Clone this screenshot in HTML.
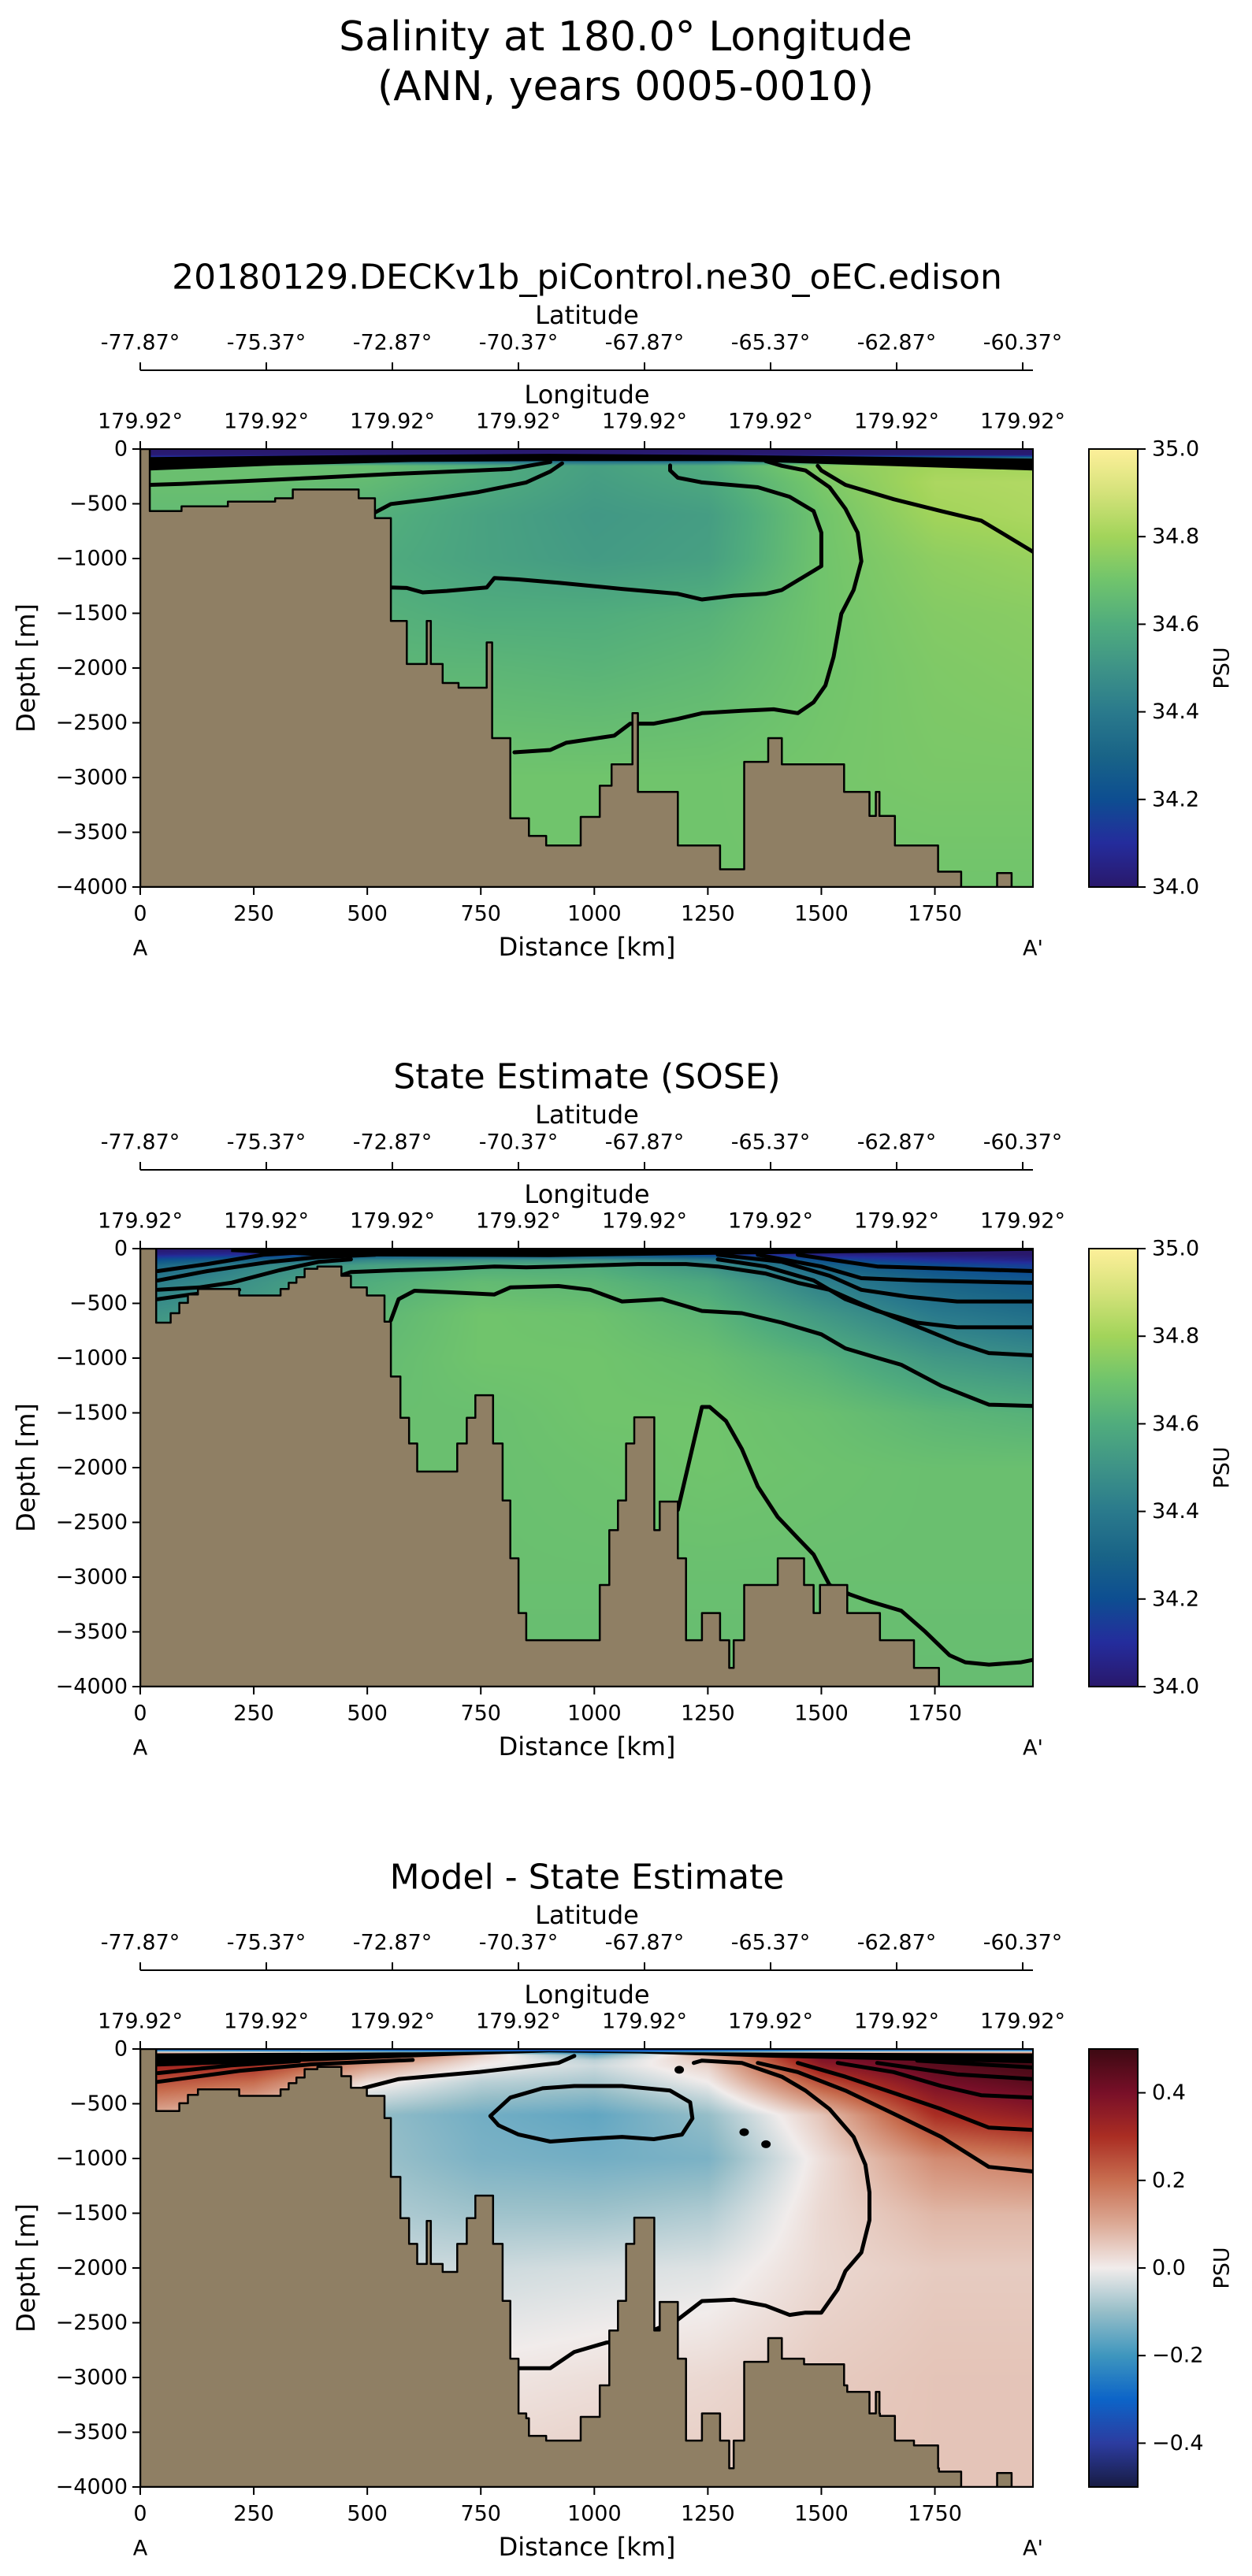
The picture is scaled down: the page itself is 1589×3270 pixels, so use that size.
<!DOCTYPE html>
<html><head><meta charset="utf-8">
<style>
html,body{margin:0;padding:0;background:#fff;}
body{width:1589px;height:3270px;position:relative;overflow:hidden;font-family:"DejaVu Sans","Liberation Sans",sans-serif;}
canvas{position:absolute;}
svg{position:absolute;left:0;top:0;}
</style></head>
<body>
<canvas id="f0" width="1133" height="556" style="left:178px;top:570px"></canvas>
<canvas id="f1" width="1133" height="556" style="left:178px;top:1585px"></canvas>
<canvas id="f2" width="1133" height="556" style="left:178px;top:2601px"></canvas>
<svg id="svg" width="1589" height="3270" xmlns="http://www.w3.org/2000/svg">
<text x="794" y="64" text-anchor="middle" font-size="52">Salinity at 180.0° Longitude</text>
<text x="794" y="127" text-anchor="middle" font-size="52">(ANN, years 0005-0010)</text>
</svg>
<script>
// ---------- data ----------
const kmNodes=[0,250,500,750,1000,1250,1500,1750,1966];
const depthNodes=[0,50,100,150,300,600,1000,1500,2000,3000,4000];
const modelSalinity=[
[34.0,34.0,34.0,34.0,34.0,34.0,34.0,34.0,34.0],
[34.02,34.02,34.02,34.02,34.02,34.02,34.02,34.02,34.02],
[34.3,34.3,34.3,34.3,34.3,34.3,34.5,34.6,34.6],
[34.68,34.68,34.68,34.6,34.55,34.6,34.75,34.8,34.8],
[34.68,34.68,34.66,34.6,34.54,34.58,34.72,34.82,34.83],
[34.66,34.66,34.62,34.56,34.52,34.54,34.70,34.80,34.82],
[34.64,34.64,34.6,34.56,34.53,34.55,34.70,34.76,34.78],
[34.64,34.64,34.62,34.6,34.6,34.62,34.7,34.74,34.75],
[34.66,34.66,34.64,34.64,34.63,34.65,34.7,34.73,34.74],
[34.7,34.7,34.7,34.7,34.7,34.7,34.71,34.72,34.72],
[34.7,34.7,34.7,34.7,34.7,34.7,34.7,34.7,34.7]];
const soseSalinity=[
[34.0,34.0,34.0,34.0,34.0,34.0,34.0,34.0,34.0],
[34.05,34.1,34.2,34.2,34.2,34.15,34.05,34.02,34.0],
[34.2,34.3,34.45,34.5,34.5,34.4,34.2,34.1,34.05],
[34.3,34.45,34.55,34.6,34.6,34.5,34.3,34.2,34.15],
[34.4,34.5,34.6,34.66,34.64,34.58,34.42,34.3,34.25],
[34.5,34.55,34.64,34.7,34.69,34.64,34.52,34.4,34.35],
[34.6,34.62,34.66,34.7,34.7,34.68,34.62,34.52,34.48],
[34.66,34.66,34.68,34.68,34.7,34.7,34.68,34.64,34.62],
[34.68,34.68,34.68,34.68,34.69,34.7,34.69,34.68,34.68],
[34.68,34.68,34.68,34.68,34.68,34.68,34.68,34.68,34.68],
[34.67,34.67,34.67,34.67,34.67,34.67,34.67,34.67,34.67]];
const diffSalinity=[
[-0.4,-0.4,-0.4,-0.4,-0.4,-0.4,-0.4,-0.4,-0.4],
[0.4,0.35,0.25,0.05,-0.15,0.1,0.4,0.45,0.45],
[0.35,0.32,0.18,0.02,-0.06,0.06,0.38,0.45,0.48],
[0.32,0.3,0.12,0.0,-0.04,0.04,0.35,0.45,0.48],
[0.25,0.2,0.02,-0.06,-0.08,0.0,0.25,0.4,0.45],
[0.1,0.04,-0.1,-0.14,-0.16,-0.1,0.06,0.3,0.35],
[0.02,-0.03,-0.09,-0.13,-0.14,-0.13,0.02,0.15,0.18],
[0,-0.03,-0.07,-0.09,-0.09,-0.07,0.03,0.08,0.08],
[0,-0.02,-0.04,-0.04,-0.03,-0.02,0.03,0.05,0.05],
[0.02,0.02,0.01,0.01,0.02,0.03,0.05,0.06,0.06],
[0.04,0.04,0.04,0.04,0.05,0.05,0.06,0.06,0.06]];
const modelBathy=[[0,0],[21,-567],[91,-523],[193,-480],[297,-450],[336,-370],[481,-450],[517,-632],[552,-1570],[587,-1963],[631,-1570],[640,-1963],[666,-2137],[701,-2180],[763,-1766],[775,-2640],[815,-3372],[856,-3533],[894,-3620],[970,-3360],[1012,-3075],[1038,-2879],[1084,-2412],[1096,-3132],[1184,-3620],[1277,-3838],[1330,-2857],[1383,-2640],[1413,-2879],[1550,-3132],[1606,-3350],[1620,-3132],[1628,-3350],[1662,-3620],[1757,-3860],[1808,-4000],[1887,-3873],[1919,-4000]];
const soseBathy=[[0,0],[35,-676],[67,-590],[86,-496],[105,-419],[127,-368],[218,-428],[309,-368],[327,-312],[344,-261],[362,-184],[390,-163],[443,-248],[464,-355],[499,-428],[538,-667],[552,-1168],[573,-1545],[592,-1780],[610,-2036],[698,-1780],[719,-1545],[738,-1339],[777,-1780],[798,-2301],[815,-2828],[833,-3328],[850,-3576],[1012,-3072],[1033,-2571],[1052,-2301],[1070,-1780],[1088,-1540],[1132,-2571],[1144,-2310],[1184,-2828],[1202,-3576],[1237,-3328],[1277,-3576],[1297,-3829],[1307,-3576],[1330,-3072],[1404,-2828],[1462,-3072],[1483,-3328],[1497,-3072],[1557,-3328],[1629,-3576],[1704,-3829],[1759,-4000]];
const modelContours=[
[[21,-327],[91,-318],[214,-296],[390,-262],[566,-226],[741,-196],[815,-183],[903,-118]],
[[517,-580],[552,-502],[640,-458],[745,-393],[850,-305],[903,-205],[929,-131]],
[[1167,-150],[1167,-196],[1184,-262],[1237,-305],[1360,-349],[1430,-436],[1483,-567],[1500,-763],[1500,-1069],[1483,-1112],[1413,-1287],[1377,-1322],[1307,-1339],[1237,-1374],[1184,-1322],[1061,-1278],[921,-1221],[833,-1191],[780,-1178],[763,-1265],[675,-1296],[622,-1309],[587,-1269],[552,-1265]],
[[1377,-109],[1413,-153],[1465,-196],[1518,-349],[1553,-545],[1580,-763],[1588,-1025],[1571,-1287],[1544,-1505],[1527,-1897],[1509,-2159],[1483,-2312],[1448,-2412],[1395,-2377],[1325,-2390],[1237,-2412],[1184,-2465],[1131,-2508],[1079,-2508],[1044,-2617],[1009,-2639],[938,-2683],[903,-2748],[824,-2770]],
[[1492,-153],[1500,-196],[1553,-327],[1659,-458],[1764,-567],[1852,-654],[1905,-785],[1966,-938]]];
const modelBandTop=[[21,-74],[500,-55],[900,-44],[1300,-55],[1966,-87]];
const modelBandBottom=[[21,-196],[300,-150],[600,-118],[900,-109],[1300,-109],[1966,-196]];
const soseContours=[
[[552,-654],[569,-462],[604,-385],[675,-398],[780,-419],[815,-355],[921,-342],[991,-376],[1061,-483],[1149,-462],[1202,-526],[1237,-569],[1325,-590],[1413,-676],[1500,-783],[1553,-911],[1623,-997],[1676,-1061],[1764,-1253],[1869,-1425],[1966,-1437]],
[[446,-240],[464,-214],[569,-197],[675,-184],[780,-163],[850,-171],[921,-163],[1096,-141],[1202,-141],[1272,-163],[1377,-227],[1448,-312],[1518,-376],[1588,-505],[1659,-625],[1729,-740],[1799,-860],[1869,-954],[1966,-975]],
[[1272,-98],[1377,-163],[1483,-291],[1553,-462],[1623,-569],[1711,-676],[1799,-719],[1966,-719]],
[[1272,-56],[1413,-120],[1518,-248],[1588,-376],[1694,-441],[1799,-483],[1966,-483]],
[[1360,-56],[1500,-163],[1588,-270],[1711,-291],[1966,-312]],
[[1448,-56],[1623,-163],[1966,-205]],
[[1184,-2387],[1237,-1446],[1254,-1446],[1290,-1574],[1325,-1831],[1360,-2173],[1404,-2451],[1448,-2644],[1483,-2794],[1518,-3072],[1562,-3157],[1606,-3221],[1676,-3307],[1729,-3499],[1782,-3713],[1817,-3778],[1869,-3799],[1940,-3778],[1966,-3756]],
[[39,-205],[148,-141],[271,-56],[358,-34]],
[[39,-291],[148,-205],[288,-120],[394,-77],[517,-56]],
[[39,-376],[130,-355],[200,-312],[306,-198],[394,-120],[464,-98]],
[[39,-462],[112,-419],[218,-376]]];
const soseBandTop=[[200,0],[1966,0]];
const soseBandBottom=[[200,-30],[400,-70],[900,-77],[1200,-60],[1966,-20]];
const diffContours=[
[[789,-697],[771,-612],[815,-444],[886,-359],[956,-338],[1061,-338],[1167,-380],[1211,-486],[1216,-634],[1193,-781],[1131,-824],[1061,-803],[973,-824],[903,-845],[833,-781],[789,-697]],
[[833,-2915],[903,-2915],[956,-2767],[1026,-2682],[1079,-2661],[1184,-2471],[1237,-2302],[1307,-2289],[1377,-2344],[1430,-2429],[1465,-2408],[1500,-2408],[1536,-2196],[1553,-2028],[1588,-1859],[1606,-1563],[1606,-1309],[1597,-1056],[1571,-803],[1518,-549],[1465,-380],[1413,-253],[1325,-127],[1237,-106],[1219,-127]],
[[490,-359],[569,-275],[745,-211],[833,-169],[921,-127],[956,-63]],
[[1360,-127],[1448,-211],[1553,-380],[1659,-591],[1764,-803],[1869,-1077],[1966,-1119]],
[[1448,-127],[1553,-253],[1659,-401],[1764,-549],[1869,-718],[1966,-739]],
[[1536,-127],[1659,-211],[1764,-338],[1852,-422],[1966,-444]],
[[1623,-127],[1799,-232],[1966,-275]],
[[1711,-106],[1966,-169]],
[[39,-300],[218,-200],[376,-140],[600,-100]],
[[39,-220],[200,-150],[350,-110]]];
const diffDots=[[1187,-190],[1330,-760],[1378,-870]];
const diffBandTop=[[35,-40],[600,-30],[900,-20],[1200,-30],[1966,-40]];
const diffBandBottom=[[35,-160],[400,-110],[700,-60],[900,-30],[1100,-40],[1400,-80],[1966,-130]];
const distTicks=[0,250,500,750,1000,1250,1500,1750];
const depthTicks=[0,-500,-1000,-1500,-2000,-2500,-3000,-3500,-4000];
const latLabels=["-77.87°","-75.37°","-72.87°","-70.37°","-67.87°","-65.37°","-62.87°","-60.37°"];
const lonLabels=["179.92°","179.92°","179.92°","179.92°","179.92°","179.92°","179.92°","179.92°"];
const salTicks=[34.0,34.2,34.4,34.6,34.8,35.0];
const diffTicks=[-0.4,-0.2,0.0,0.2,0.4];
const panelTitles=["20180129.DECKv1b_piControl.ne30_oEC.edison","State Estimate (SOSE)","Model - State Estimate"];

// ---------- layout ----------
const X0=178,PW=1133,PH=556,XMAX=1966,DMAX=4000;
const TOPS=[570,1585,2601];
const CBX=1382,CBW=62;
const xs=km=>X0+km/XMAX*PW;
const ys=(d,top)=>top+(-d)/DMAX*PH;

const halineStops=[[41,24,107],[36,44,156],[13,78,145],[25,100,135],[42,122,140],[62,147,135],[80,172,125],[112,196,108],[162,212,90],[212,226,122],[253,239,154]];
const balanceStops=[[24,28,67],[44,60,160],[12,100,200],[62,150,190],[150,190,200],[241,236,235],[220,170,150],[200,110,80],[170,45,35],[120,15,40],[60,9,18]];
function cmap(stops,t){t=Math.max(0,Math.min(1,t));const p=t*(stops.length-1);const i=Math.min(stops.length-2,Math.floor(p));const f=p-i;
 return [0,1,2].map(k=>stops[i][k]+(stops[i+1][k]-stops[i][k])*f);}
function seg(nodes,v){let i=0;while(i<nodes.length-2&&v>nodes[i+1])i++;const f=Math.max(0,Math.min(1,(v-nodes[i])/(nodes[i+1]-nodes[i])));return [i,f];}
function fieldAt(grid,km,d){const [i,fx]=seg(kmNodes,km);const [j,fy]=seg(depthNodes,d);
 const a=grid[j][i]+(grid[j][i+1]-grid[j][i])*fx;const b=grid[j+1][i]+(grid[j+1][i+1]-grid[j+1][i])*fx;return a+(b-a)*fy;}
function drawField(id,grid,stops,vmin,vmax){const c=document.getElementById(id);const ctx=c.getContext('2d');const img=ctx.createImageData(PW,PH);
 for(let y=0;y<PH;y++){const d=y/PH*DMAX;for(let x=0;x<PW;x++){const km=x/PW*XMAX;const v=fieldAt(grid,km,d);const col=cmap(stops,(v-vmin)/(vmax-vmin));const o=(y*PW+x)*4;img.data[o]=col[0];img.data[o+1]=col[1];img.data[o+2]=col[2];img.data[o+3]=255;}}
 ctx.putImageData(img,0,0);}
drawField('f0',modelSalinity,halineStops,34,35);
drawField('f1',soseSalinity,halineStops,34,35);
drawField('f2',diffSalinity,balanceStops,-0.5,0.5);

function depthAt(b,km){let d=b[0][1];for(const s of b){if(km>=s[0])d=s[1];}return d;}
function unionBathy(a,b){const ks=[...new Set([...a.map(p=>p[0]),...b.map(p=>p[0])])].sort((p,q)=>p-q);
 const out=[];ks.forEach((k,i)=>{const nx=i<ks.length-1?ks[i+1]:XMAX;const m=(k+nx)/2;out.push([k,Math.max(depthAt(a,m),depthAt(b,m))]);});return out;}
const diffBathy=unionBathy(modelBathy,soseBathy);

const svg=document.getElementById('svg');const NS='http://www.w3.org/2000/svg';
function el(tag,attrs,parent){const e=document.createElementNS(NS,tag);for(const k in attrs)e.setAttribute(k,attrs[k]);(parent||svg).appendChild(e);return e;}
function txt(x,y,s,size,anchor,parent){const t=el('text',{x:x,y:y,'font-size':size,'text-anchor':anchor||'middle','dominant-baseline':'central'},parent);t.textContent=s;return t;}
function linePath(pts,top){return pts.map((p,i)=>(i?'L':'M')+xs(p[0]).toFixed(1)+' '+ys(p[1],top).toFixed(1)).join(' ');}

function panel(idx,bathy,contours,bandTop,bandBottom,stops,ticks,vmin,vmax,fmt,dots){
 const top=TOPS[idx];const g=el('g',{});
 
 
 const clipId='clip'+idx;const cp=el('clipPath',{id:clipId},g);el('rect',{x:X0,y:top,width:PW,height:PH},cp);
 const pg=el('g',{'clip-path':'url(#'+clipId+')'},g);
 const band=el('path',{d:linePath(bandTop,top)+' '+linePath(bandBottom.slice().reverse(),top).replace('M','L')+' Z',fill:'#000'},pg);
 
 
 contours.forEach((c)=>{const p=el('path',{d:linePath(c,top),fill:'none',stroke:'#000','stroke-width':5,'stroke-linejoin':'round','stroke-linecap':'round'},pg);
  
  });
 (dots||[]).forEach(dp=>{const d=el('ellipse',{cx:xs(dp[0]),cy:ys(dp[1],top),rx:6,ry:5,fill:'#000'},pg);
  
  });
 let dstr='M'+xs(0)+' '+ys(-DMAX,top);
 bathy.forEach((s,i)=>{const nx=i<bathy.length-1?bathy[i+1][0]:XMAX;dstr+=' L'+xs(s[0]).toFixed(1)+' '+ys(s[1],top).toFixed(1)+' L'+xs(nx).toFixed(1)+' '+ys(s[1],top).toFixed(1);});
 dstr+=' L'+xs(XMAX)+' '+ys(-DMAX,top)+' Z';
 const land=el('path',{d:dstr,fill:'#8f7f64',stroke:'#000','stroke-width':2.5,'stroke-linejoin':'round'},pg);
 
 
 const frame=el('rect',{x:X0,y:top,width:PW,height:PH,fill:'none',stroke:'#000','stroke-width':2},g);
 
 
 const t=txt(745,top-218,panelTitles[idx],44,'middle',g);
 
 
 const lt=txt(745,top-170,'Latitude',32,'middle',g);
 
 
 const ll=el('line',{x1:X0,y1:top-100,x2:X0+PW,y2:top-100,stroke:'#000','stroke-width':2},g);
 
 
 const ln=txt(745,top-69,'Longitude',32,'middle',g);
 
 
 latLabels.forEach((s,i)=>{const x=X0+i*160;el('line',{x1:x,y1:top-100,x2:x,y2:top-110,stroke:'#000','stroke-width':2},g);
  const a=txt(x,top-135,s,27,'middle',g);
  
  
  el('line',{x1:x,y1:top,x2:x,y2:top-10,stroke:'#000','stroke-width':2},g);
  const b=txt(x,top-35,lonLabels[i],27,'middle',g);
  
  });
 distTicks.forEach(v=>{const x=xs(v);el('line',{x1:x,y1:top+PH,x2:x,y2:top+PH+10,stroke:'#000','stroke-width':2},g);
  const a=txt(x,top+PH+34,String(v),27,'middle',g);
  
  });
 const xl=txt(745,top+PH+76,'Distance [km]',32,'middle',g);
 
 
 const aa=txt(X0,top+PH+78,'A',27,'middle',g);
 
 
 const ab=txt(X0+PW,top+PH+78,"A'",27,'middle',g);
 
 
 depthTicks.forEach(v=>{const y=ys(v,top);el('line',{x1:X0,y1:y,x2:X0-10,y2:y,stroke:'#000','stroke-width':2},g);
  const a=txt(X0-16,y,v<0?'\u2212'+(-v):String(v),27,'end',g);
  
  });
 const yl=txt(0,0,'Depth [m]',32,'middle',g);yl.setAttribute('transform','translate(33,'+(top+PH/2)+') rotate(-90)');
 
 
 const gid='grad'+idx;const lg=el('linearGradient',{id:gid,x1:0,y1:1,x2:0,y2:0},g);
 for(let i=0;i<=20;i++){const c=cmap(stops,i/20);el('stop',{offset:(i/20),'stop-color':'rgb('+c.map(Math.round).join(',')+')'},lg);}
 const cb=el('rect',{x:CBX,y:top,width:CBW,height:PH,fill:'url(#'+gid+')',stroke:'#000','stroke-width':2},g);
 
 
 ticks.forEach(v=>{const y=top+PH-(v-vmin)/(vmax-vmin)*PH;el('line',{x1:CBX+CBW,y1:y,x2:CBX+CBW+10,y2:y,stroke:'#000','stroke-width':2},g);
  const a=txt(CBX+CBW+18,y,fmt(v),27,'start',g);
  
  });
 const pl=txt(0,0,'PSU',27,'middle',g);pl.setAttribute('transform','translate(1551,'+(top+PH/2)+') rotate(-90)');
 
 
}
panel(0,modelBathy,modelContours,modelBandTop,modelBandBottom,halineStops,salTicks,34,35,v=>v.toFixed(1));
panel(1,soseBathy,soseContours,soseBandTop,soseBandBottom,halineStops,salTicks,34,35,v=>v.toFixed(1));
panel(2,diffBathy,diffContours,diffBandTop,diffBandBottom,balanceStops,diffTicks,-0.5,0.5,v=>(v<0?'\u2212':'')+Math.abs(v).toFixed(1),diffDots);
</script>
</body></html>
